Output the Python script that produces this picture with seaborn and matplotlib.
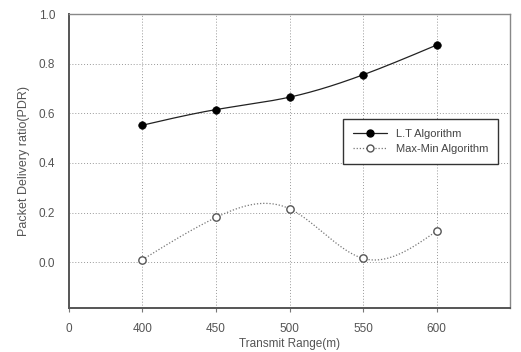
import numpy as np
import pandas as pd
import matplotlib
matplotlib.use("Agg")
import matplotlib.pyplot as plt
import seaborn as sns
from matplotlib.lines import Line2D

transmit_range = [400, 450, 500, 550, 600]
lt_pdr = [0.552, 0.615, 0.665, 0.755, 0.875]
maxmin_pdr = [0.010, 0.180, 0.215, 0.015, 0.125]
x_tick_pos = [350, 400, 450, 500, 550, 600]
x_tick_labels = ["0", "400", "450", "500", "550", "600"]
y_ticks = [0.0, 0.2, 0.4, 0.6, 0.8, 1.0]


def natural_spline(x, y, n=200):
    x = np.asarray(x, float)
    y = np.asarray(y, float)
    k = len(x)
    h = np.diff(x)
    A = np.zeros((k, k))
    b = np.zeros(k)
    A[0, 0] = 1
    A[-1, -1] = 1
    for i in range(1, k - 1):
        A[i, i - 1] = h[i - 1]
        A[i, i] = 2 * (h[i - 1] + h[i])
        A[i, i + 1] = h[i]
        b[i] = 6 * ((y[i + 1] - y[i]) / h[i] - (y[i] - y[i - 1]) / h[i - 1])
    M = np.linalg.solve(A, b)
    xs = np.linspace(x[0], x[-1], n)
    idx = np.clip(np.searchsorted(x, xs) - 1, 0, k - 2)
    x0, x1 = x[idx], x[idx + 1]
    hh = x1 - x0
    ys = (M[idx] * (x1 - xs) ** 3 / (6 * hh) + M[idx + 1] * (xs - x0) ** 3 / (6 * hh)
          + (y[idx] / hh - M[idx] * hh / 6) * (x1 - xs)
          + (y[idx + 1] / hh - M[idx + 1] * hh / 6) * (xs - x0))
    return xs, ys


sns.set_theme(style="white")
plt.rcParams["font.family"] = ["Liberation Sans", "DejaVu Sans"]

fig = plt.figure(figsize=(5.21, 3.52), dpi=100)
ax = fig.add_axes([0.1324, 0.125, 0.979 - 0.1324, 0.960 - 0.125])

sx, sy = natural_spline(transmit_range, lt_pdr)
sns.lineplot(x=sx, y=sy, ax=ax, color="#222222", lw=0.9, sort=False)
mx, my = natural_spline(transmit_range, maxmin_pdr)
sns.lineplot(x=mx, y=my, ax=ax, color="#777777", lw=0.9, linestyle=(0, (1, 1.5)), sort=False)

sns.scatterplot(x=transmit_range, y=lt_pdr, ax=ax, color="black", s=30, edgecolor="black", zorder=5)
sns.scatterplot(x=transmit_range, y=maxmin_pdr, ax=ax, facecolor="white", s=28,
                edgecolor="#555555", linewidth=1.0, zorder=5)

ax.set_xlim(350, 650)
ax.set_ylim(-0.185, 1.0)
ax.set_xticks(x_tick_pos)
ax.set_xticklabels(x_tick_labels)
ax.set_yticks(y_ticks)
ax.set_yticklabels([f"{v:.1f}" for v in y_ticks])

for xv in x_tick_pos[1:]:
    ax.axvline(xv, color="#999999", lw=0.7, linestyle=(0, (1, 2)), zorder=0)
for yv in y_ticks[:-1]:
    ax.axhline(yv, color="#999999", lw=0.7, linestyle=(0, (1, 2)), zorder=0)

for s in ["left", "bottom"]:
    ax.spines[s].set_color("#555555")
    ax.spines[s].set_linewidth(1.4)
for s in ["top", "right"]:
    ax.spines[s].set_color("#888888")
    ax.spines[s].set_linewidth(1.0)

ax.tick_params(axis="x", direction="out", length=3, width=0.8, color="#777777",
               labelsize=8.5, labelcolor="#555555", pad=8, bottom=True)
ax.tick_params(axis="y", length=0, labelsize=8.5, labelcolor="#555555", pad=10)

ax.set_xlabel("Transmit Range(m)", fontsize=8.5, color="#555555", labelpad=2)
ax.set_ylabel("Packet Delivery ratio(PDR)", fontsize=9, color="#555555", labelpad=6)

handles = [
    Line2D([], [], color="#222222", lw=0.9, marker="o", markersize=5,
           markerfacecolor="black", markeredgecolor="black"),
    Line2D([], [], color="#777777", lw=0.9, linestyle=(0, (1, 1.5)), marker="o", markersize=5,
           markerfacecolor="white", markeredgecolor="#555555"),
]
leg = ax.legend(handles, ["L.T Algorithm", "Max-Min Algorithm"], loc="upper left",
                bbox_to_anchor=(0.622, 0.642), fontsize=8, frameon=True, fancybox=False,
                framealpha=1, edgecolor="#333333", borderpad=0.9, handlelength=3.0,
                labelspacing=0.45, handletextpad=0.8, borderaxespad=0)
leg.get_frame().set_linewidth(1.0)
for t in leg.get_texts():
    t.set_color("#444444")

fig.savefig("out.png", dpi=100)
